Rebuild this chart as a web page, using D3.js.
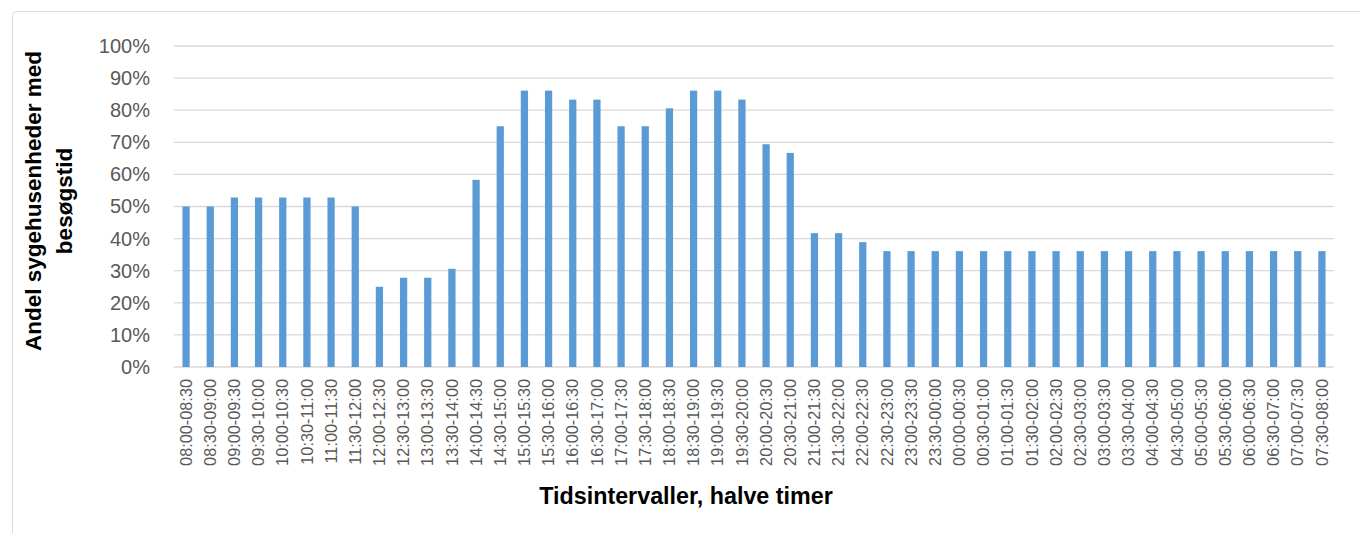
<!DOCTYPE html>
<html>
<head>
<meta charset="utf-8">
<script src="https://cdn.jsdelivr.net/npm/d3@7"></script>
<style>
  html, body { margin: 0; padding: 0; background: #fff; }
  svg { display: block; }
</style>
</head>
<body>
<svg id="chart" width="1360" height="533"></svg>
<script>
// Half-hour visiting intervals, 08:00 through 08:00 the next day
const intervals = [
  "08:00-08:30","08:30-09:00","09:00-09:30","09:30-10:00","10:00-10:30","10:30-11:00",
  "11:00-11:30","11:30-12:00","12:00-12:30","12:30-13:00","13:00-13:30","13:30-14:00",
  "14:00-14:30","14:30-15:00","15:00-15:30","15:30-16:00","16:00-16:30","16:30-17:00",
  "17:00-17:30","17:30-18:00","18:00-18:30","18:30-19:00","19:00-19:30","19:30-20:00",
  "20:00-20:30","20:30-21:00","21:00-21:30","21:30-22:00","22:00-22:30","22:30-23:00",
  "23:00-23:30","23:30-00:00","00:00-00:30","00:30-01:00","01:00-01:30","01:30-02:00",
  "02:00-02:30","02:30-03:00","03:00-03:30","03:30-04:00","04:00-04:30","04:30-05:00",
  "05:00-05:30","05:30-06:00","06:00-06:30","06:30-07:00","07:00-07:30","07:30-08:00"
];

// Share of hospital units with visiting hours in each interval (%)
const shares = [
  50.0, 50.0, 52.8, 52.8, 52.8, 52.8,
  52.8, 50.0, 25.0, 27.8, 27.8, 30.6,
  58.3, 75.0, 86.1, 86.1, 83.3, 83.3,
  75.0, 75.0, 80.6, 86.1, 86.1, 83.3,
  69.4, 66.7, 41.7, 41.7, 38.9, 36.1,
  36.1, 36.1, 36.1, 36.1, 36.1, 36.1,
  36.1, 36.1, 36.1, 36.1, 36.1, 36.1,
  36.1, 36.1, 36.1, 36.1, 36.1, 36.1
];

const yTicks = [0, 10, 20, 30, 40, 50, 60, 70, 80, 90, 100];

const yTitleLines = ["Andel sygehusenheder med", "besøgstid"];
const xTitle = "Tidsintervaller, halve timer";

const svg = d3.select("#chart");
const font = "'Liberation Sans', Arial, sans-serif";

// Chart frame
svg.append("rect")
  .attr("x", 12.5).attr("y", 11.5)
  .attr("width", 1400).attr("height", 600)
  .attr("rx", 4)
  .attr("fill", "#fff")
  .attr("stroke", "#d9d9d9")
  .attr("stroke-width", 1);

const plot = { left: 174, right: 1334, top: 46, bottom: 367 };

const x = d3.scaleBand()
  .domain(intervals)
  .range([plot.left, plot.right])
  .paddingInner(0.7)
  .paddingOuter(0.35);

const y = d3.scaleLinear()
  .domain([0, 100])
  .range([plot.bottom, plot.top]);

// Horizontal gridlines
svg.append("g")
  .selectAll("line")
  .data(yTicks)
  .join("line")
  .attr("x1", plot.left).attr("x2", plot.right)
  .attr("y1", d => y(d)).attr("y2", d => y(d))
  .attr("stroke", "#d9d9d9")
  .attr("stroke-width", 1.3);

// Y axis tick labels
const yAxis = svg.append("g")
  .attr("transform", `translate(${plot.left - 24},0)`)
  .call(d3.axisLeft(y).tickValues(yTicks).tickSize(0).tickPadding(0).tickFormat(d => d + "%"));
yAxis.select(".domain").remove();
yAxis.selectAll("text")
  .attr("font-family", font)
  .attr("font-size", 20)
  .attr("fill", "#595959");

// Bars
svg.append("g")
  .selectAll("rect")
  .data(intervals.map((k, i) => ({ k, v: shares[i] })))
  .join("rect")
  .attr("x", d => x(d.k))
  .attr("width", x.bandwidth())
  .attr("y", d => y(d.v))
  .attr("height", d => y(0) - y(d.v))
  .attr("fill", "#5b9bd5");

// X axis tick labels, rotated
const xAxis = svg.append("g")
  .attr("transform", `translate(0,${plot.bottom})`)
  .call(d3.axisBottom(x).tickSize(0).tickPadding(0));
xAxis.select(".domain").remove();
xAxis.selectAll("text")
  .attr("font-family", font)
  .attr("font-size", 16.3)
  .attr("fill", "#595959")
  .attr("text-anchor", "end")
  .attr("transform", "translate(0,12) rotate(-90)")
  .attr("dy", "0.35em")
  .attr("y", 0)
  .attr("x", 0);

// Y axis title
const yTitle = svg.append("text")
  .attr("transform", "translate(0,201) rotate(-90)")
  .attr("text-anchor", "middle")
  .attr("font-family", font)
  .attr("font-weight", "bold")
  .attr("font-size", 22.5)
  .attr("fill", "#000");
yTitle.selectAll("tspan")
  .data(yTitleLines)
  .join("tspan")
  .attr("x", 0)
  .attr("y", (d, i) => 41 + i * 31)
  .text(d => d);

// X axis title
svg.append("text")
  .attr("x", 686)
  .attr("y", 504)
  .attr("text-anchor", "middle")
  .attr("font-family", font)
  .attr("font-weight", "bold")
  .attr("font-size", 23.3)
  .attr("fill", "#000")
  .text(xTitle);
</script>
</body>
</html>
